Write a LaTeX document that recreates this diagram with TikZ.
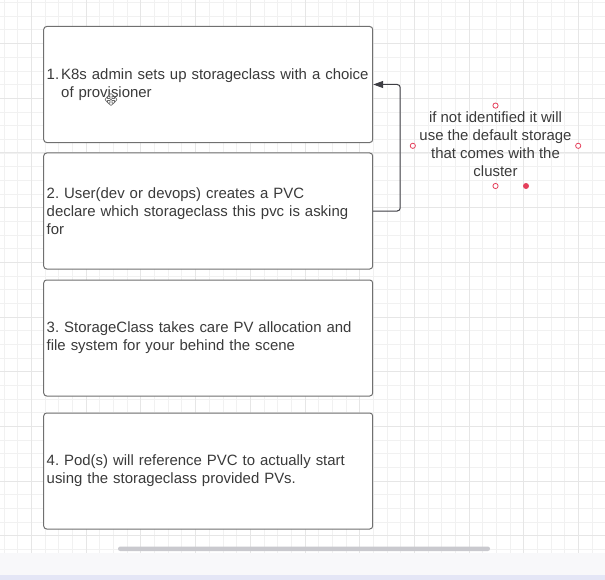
\documentclass[tikz,border=0pt]{standalone}
\usepackage{fontspec}
\setmainfont{Liberation Sans}
\usetikzlibrary{arrows.meta}
\frenchspacing

\definecolor{gridminor}{HTML}{F1F1F1}
\definecolor{gridmajor}{HTML}{E6E6E6}
\definecolor{boxline}{HTML}{707070}
\definecolor{ink}{HTML}{3A3A3A}
\definecolor{wire}{HTML}{3E3E44}
\definecolor{handle}{HTML}{E5405C}
\definecolor{strip}{HTML}{F8F8FA}
\definecolor{dock}{HTML}{E4E6F6}
\definecolor{thumb}{HTML}{C9C9CE}

\tikzset{
  stepbox/.style={draw=boxline, line width=1bp, fill=white, rounded corners=3bp,
    minimum width=329bp, minimum height=116bp, inner sep=0pt, text width=323bp,
    align=left, text=ink, font=\fontsize{15}{18}\selectfont},
  notetext/.style={inner sep=0pt, align=center, text=ink,
    font=\fontsize{15}{18}\selectfont},
  selframe/.style={inner sep=0pt, minimum width=165bp, minimum height=80bp},
  conn/.style={draw=wire, line width=1bp, rounded corners=3bp,
    -{Triangle[length=10bp,width=7bp]}},
  hollowhandle/.style={draw=handle, line width=0.8bp, fill=white},
  solidhandle/.style={fill=handle},
}

\begin{document}
\begin{tikzpicture}[x=1bp,y=-1bp]
\useasboundingbox (0,0) rectangle (605,580);
\fill[white] (0,0) rectangle (605,580);

% canvas grid: minor lines, then every fourth line darker
\foreach \i in {0,...,44} {
  \draw[gridminor, line width=0.7bp] ({4.05+13.675*\i},0) -- ({4.05+13.675*\i},552.5);
}
\foreach \j in {0,...,40} {
  \draw[gridminor, line width=0.7bp] (0,{2.5+13.675*\j}) -- (605,{2.5+13.675*\j});
}
\foreach \i in {0,...,11} {
  \draw[gridmajor, line width=0.8bp] ({31.4+54.7*\i},0) -- ({31.4+54.7*\i},552.5);
}
\foreach \j in {0,...,9} {
  \draw[gridmajor, line width=0.8bp] (0,{43.5+54.7*\j}) -- (605,{43.5+54.7*\j});
}

% bottom strip, horizontal scrollbar and dock
\fill[strip] (0,552.5) rectangle (605,575);
\fill[dock] (0,575) rectangle (605,580);
\fill[thumb, rounded corners=2.2bp] (118,546.5) rectangle (490,551);

% the four steps
\node[stepbox] (b1) at (208.2,84.5) {\makebox[14.5bp][l]{1.}K8s admin sets up storageclass with a choice\\\hspace*{14.5bp}of provisioner};
\node[stepbox] (b2) at (208.2,211) {2. User(dev or devops) creates a PVC\\declare which storageclass this pvc is asking\\for};
\node[stepbox] (b3) at (208.2,338) {3. StorageClass takes care PV allocation and\\file system for your behind the scene};
\node[stepbox] (b4) at (208.2,471) {4. Pod(s) will reference PVC to actually start\\using the storageclass provided PVs.};

% elbow connector from step 2 back to step 1
\draw[conn] (b2.east) -- ++(27,0) |- (b1.east);

% side note with its selection frame and handles
\node[selframe] (frame) at (495.5,145.8) {};
\node[notetext] (note) at (495.5,143.8) {if not identified it will\\use the default storage\\that comes with the\\cluster};
\foreach \a in {north,south,east,west} {
  \draw[hollowhandle] (frame.\a) circle (2.6bp);
}
\fill[solidhandle] ([xshift=30.5bp]frame.south) circle (3bp);

% move cursor
\coordinate (cur) at (111,99.5);
\draw[shift={(cur)}, draw=gray!80!black, fill=white, line width=0.6bp, line join=round]
  (0,-6) -- (3,-3.5) -- (1,-3.5) -- (1,-1) -- (3.5,-1) -- (3.5,-3) -- (6,0)
  -- (3.5,3) -- (3.5,1) -- (1,1) -- (1,3.5) -- (3,3.5) -- (0,6)
  -- (-3,3.5) -- (-1,3.5) -- (-1,1) -- (-3.5,1) -- (-3.5,3) -- (-6,0)
  -- (-3.5,-3) -- (-3.5,-1) -- (-1,-1) -- (-1,-3.5) -- (-3,-3.5) -- cycle;
\fill[gray!80!black] (cur) circle (0.9bp);
\end{tikzpicture}
\end{document}
